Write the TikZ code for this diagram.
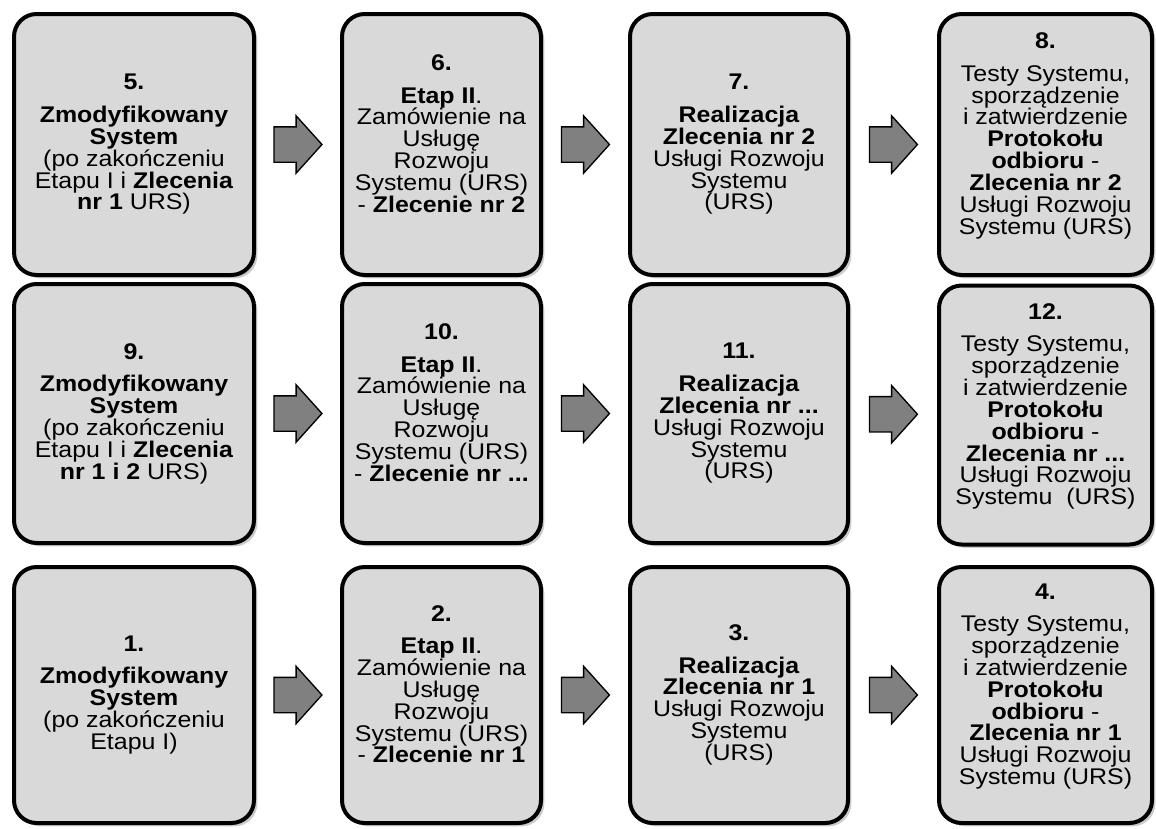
\documentclass[tikz,border=0pt]{standalone}
\usepackage{fontspec}
\setmainfont{Liberation Sans}[FakeStretch=1.1]
\usepackage{tikz}
\usetikzlibrary{positioning, calc, shadows, shapes.arrows}
\definecolor{boxgray}{HTML}{D9D9D9}
\definecolor{arrowgray}{HTML}{808080}

\begin{document}
\begin{tikzpicture}[
		x=0.75pt, y=-0.75pt,
		krok/.style={rectangle, rounded corners=17pt, draw, line width=3pt, fill=boxgray,
			align=center, inner sep=2pt, font=\fontsize{17pt}{16.4pt}\selectfont,
			drop shadow={shadow xshift=2.5pt, shadow yshift=-2.5pt, opacity=0.4}},
		wiersz1/.style={minimum height=195.75pt},
		wiersz2/.style={minimum height=194.25pt},
		wiersz3/.style={minimum height=192pt},
		kol1/.style={minimum width=180pt},
		kol2/.style={minimum width=149.25pt},
		kol3/.style={minimum width=163.5pt},
		kol4/.style={minimum width=159.75pt},
		dalej/.style={single arrow, draw, line width=1pt, fill=arrowgray, xshift=-6pt,
			inner xsep=0pt, inner ysep=12.75pt, minimum height=36pt,
			single arrow head extend=8.25pt, single arrow tip angle=96}]
		\useasboundingbox (0,0) rectangle (1156,828);

		% gorny wiersz
		\node[krok, kol1, wiersz1] (k5) at (134,144.5) {\textbf{5.}\\[8pt]\textbf{Zmodyfikowany}\\\textbf{System}\\(po zakończeniu\\Etapu I i \textbf{Zlecenia}\\\textbf{nr 1} URS)};
		\node[krok, kol2, wiersz1] (k6) at (441.5,144.5) {\textbf{6.}\\[8pt]\textbf{Etap II}.\\Zamówienie na\\Usługę\\Rozwoju\\Systemu (URS)\\- \textbf{Zlecenie nr 2}\\\mbox{}};
		\node[krok, kol3, wiersz1] (k7) at (739,144.5) {\textbf{7.}\\[8pt]\textbf{Realizacja}\\\textbf{Zlecenia nr 2}\\Usługi Rozwoju\\Systemu\\(URS)};
		\node[krok, kol4, wiersz1] (k8) at (1045.5,144.5) {\textbf{8.}\\[8pt]Testy Systemu,\\sporządzenie\\i zatwierdzenie\\\textbf{Protokołu}\\\textbf{odbioru} -\\\textbf{Zlecenia nr 2}\\Usługi Rozwoju\\Systemu (URS)\\\mbox{}};

		% srodkowy wiersz
		\node[krok, kol1, wiersz2] (k9) at (134,413.5) {\textbf{9.}\\[8pt]\textbf{Zmodyfikowany}\\\textbf{System}\\(po zakończeniu\\Etapu I i \textbf{Zlecenia}\\\textbf{nr 1 i 2} URS)};
		\node[krok, kol2, wiersz2] (k10) at (441.5,413.5) {\textbf{10.}\\[8pt]\textbf{Etap II}.\\Zamówienie na\\Usługę\\Rozwoju\\Systemu (URS)\\- \textbf{Zlecenie nr ...}\\\mbox{}};
		\node[krok, kol3, wiersz2] (k11) at (739,413.5) {\textbf{11.}\\[8pt]\textbf{Realizacja}\\\textbf{Zlecenia nr ...}\\Usługi Rozwoju\\Systemu\\(URS)};
		\node[krok, kol4, wiersz2] (k12) at (1045.5,415) {\textbf{12.}\\[8pt]Testy Systemu,\\sporządzenie\\i zatwierdzenie\\\textbf{Protokołu}\\\textbf{odbioru} -\\\textbf{Zlecenia nr ...}\\Usługi Rozwoju\\Systemu~~(URS)\\\mbox{}};

		% dolny wiersz
		\node[krok, kol1, wiersz3] (k1) at (134,695) {\textbf{1.}\\[8pt]\textbf{Zmodyfikowany}\\\textbf{System}\\(po zakończeniu\\Etapu I)};
		\node[krok, kol2, wiersz3] (k2) at (441.5,695) {\textbf{2.}\\[8pt]\textbf{Etap II}.\\Zamówienie na\\Usługę\\Rozwoju\\Systemu (URS)\\- \textbf{Zlecenie nr 1}\\\mbox{}};
		\node[krok, kol3, wiersz3] (k3) at (739,695) {\textbf{3.}\\[8pt]\textbf{Realizacja}\\\textbf{Zlecenia nr 1}\\Usługi Rozwoju\\Systemu\\(URS)};
		\node[krok, kol4, wiersz3] (k4) at (1045.5,695) {\textbf{4.}\\[8pt]Testy Systemu,\\sporządzenie\\i zatwierdzenie\\\textbf{Protokołu}\\\textbf{odbioru} -\\\textbf{Zlecenia nr 1}\\Usługi Rozwoju\\Systemu (URS)\\\mbox{}};

		\node[dalej] (a56) at ($(k5.east)!0.5!(k6.west)$) {};
		\node[dalej] (a67) at ($(k6.east)!0.5!(k7.west)$) {};
		\node[dalej] (a78) at ($(k7.east)!0.5!(k8.west)$) {};
		\node[dalej] (a910) at ($(k9.east)!0.5!(k10.west)$) {};
		\node[dalej] (a1011) at ($(k10.east)!0.5!(k11.west)$) {};
		\node[dalej] (a1112) at ($(k11.east)!0.5!(k12.west)$) {};
		\node[dalej] (a12) at ($(k1.east)!0.5!(k2.west)$) {};
		\node[dalej] (a23) at ($(k2.east)!0.5!(k3.west)$) {};
		\node[dalej] (a34) at ($(k3.east)!0.5!(k4.west)$) {};

\end{tikzpicture}
\end{document}
